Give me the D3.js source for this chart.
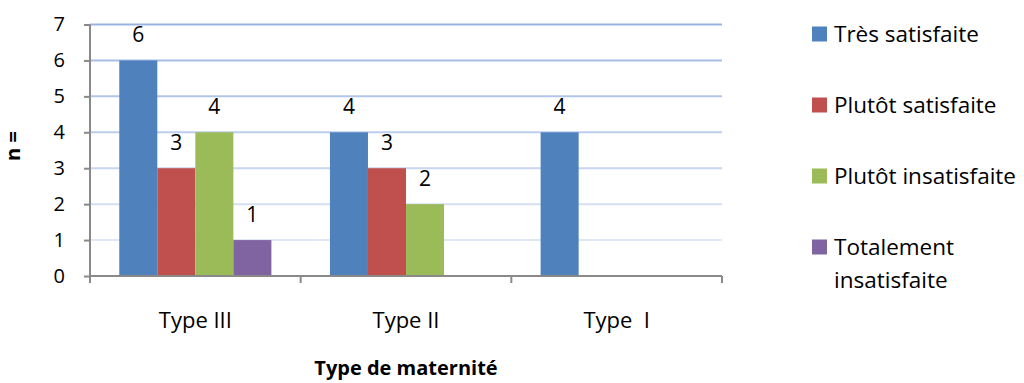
<!DOCTYPE html>
<html lang="fr">
<head>
<meta charset="utf-8">
<title>Satisfaction par type de maternité</title>
<script src="https://d3js.org/d3.v7.min.js"></script>
<style>
  body { margin: 0; background: #fff; }
  svg text { font-family: "Open Sans", "Noto Sans", sans-serif; fill: #000; }
</style>
</head>
<body>
<script>
// data
var categories = ["Type III", "Type II", "Type  I"];
var series = ["Très satisfaite", "Plutôt satisfaite", "Plutôt insatisfaite", "Totalement insatisfaite"];
var tresSatisfaite = [6, 4, 4];
var plutotSatisfaite = [3, 3, null];
var plutotInsatisfaite = [4, 2, null];
var totalementInsatisfaite = [1, null, null];
var yTicks = [0, 1, 2, 3, 4, 5, 6, 7];
var colors = ["#4f81bd", "#c0504d", "#9bbb59", "#8064a2"];

var values = [tresSatisfaite, plutotSatisfaite, plutotInsatisfaite, totalementInsatisfaite];

var width = 1024, height = 383;
var plot = {left: 90, right: 722, top: 24.5, bottom: 276};

var svg = d3.select("body").append("svg")
    .attr("width", width)
    .attr("height", height);

var x0 = d3.scaleBand()
    .domain(categories)
    .range([plot.left, plot.right]);

// excel style: 4 bars share ~72% of the band, centred
var x1 = d3.scaleBand()
    .domain(series)
    .range([0, x0.bandwidth()])
    .paddingOuter(0.77);

var y = d3.scaleLinear()
    .domain([0, 7])
    .range([plot.bottom, plot.top]);

var gridColor = d3.scaleLinear().domain([7, 1]).range(["#9ab4e2", "#dfe7f6"]);

// gridlines
svg.append("g")
  .selectAll("line")
  .data(yTicks.filter(function(d) { return d > 0; }))
  .enter().append("line")
    .attr("x1", plot.left)
    .attr("x2", plot.right)
    .attr("y1", function(d) { return y(d); })
    .attr("y2", function(d) { return y(d); })
    .attr("stroke", function(d) { return gridColor(d); })
    .attr("stroke-width", 2);

// bars
var rows = [];
categories.forEach(function(c, i) {
  series.forEach(function(s, j) {
    if (values[j][i] != null) rows.push({cat: c, key: s, value: values[j][i], color: colors[j]});
  });
});

svg.append("g")
  .selectAll("rect")
  .data(rows)
  .enter().append("rect")
    .attr("x", function(d) { return x0(d.cat) + x1(d.key); })
    .attr("y", function(d) { return y(d.value); })
    .attr("width", x1.bandwidth())
    .attr("height", function(d) { return y(0) - y(d.value); })
    .attr("fill", function(d) { return d.color; });

// value labels
svg.append("g")
  .selectAll("text")
  .data(rows)
  .enter().append("text")
    .attr("x", function(d) { return x0(d.cat) + x1(d.key) + x1.bandwidth() / 2; })
    .attr("y", function(d) { return y(d.value) - 18; })
    .attr("text-anchor", "middle")
    .attr("font-size", 21)
    .text(function(d) { return d.value; });

// y axis
var yAxis = svg.append("g")
    .attr("transform", "translate(" + plot.left + ",0)")
    .call(d3.axisLeft(y).tickValues(yTicks).tickFormat(d3.format("d")).tickSize(6).tickPadding(19));
yAxis.select(".domain").attr("stroke", "#898989").attr("stroke-width", 2).attr("d", "M0," + plot.top + "V" + plot.bottom);
yAxis.selectAll(".tick line").attr("stroke", "#898989").attr("stroke-width", 2);
yAxis.selectAll(".tick text").attr("font-size", 20).attr("font-family", "Open Sans").attr("fill", "#000");

// x axis
var xAxis = svg.append("g")
    .attr("transform", "translate(0," + plot.bottom + ")")
    .call(d3.axisBottom(x0).tickSize(0).tickPadding(36));
xAxis.select(".domain").attr("stroke", "#898989").attr("stroke-width", 2)
    .attr("d", "M" + plot.left + ",0H" + plot.right);
xAxis.selectAll(".tick text")
    .attr("font-size", 22)
    .attr("font-family", "Open Sans")
    .attr("fill", "#000")
    .style("white-space", "pre");

// category separators
svg.append("g")
  .selectAll("line")
  .data(categories.concat(["end"]))
  .enter().append("line")
    .attr("x1", function(d, i) { return plot.left + i * x0.bandwidth(); })
    .attr("x2", function(d, i) { return plot.left + i * x0.bandwidth(); })
    .attr("y1", plot.bottom)
    .attr("y2", plot.bottom + 7)
    .attr("stroke", "#898989")
    .attr("stroke-width", 2);

// axis titles
svg.append("text")
    .attr("x", (plot.left + plot.right) / 2)
    .attr("y", 375)
    .attr("text-anchor", "middle")
    .attr("font-size", 20)
    .attr("font-weight", "bold")
    .text("Type de maternité");

svg.append("text")
    .attr("transform", "translate(20,146) rotate(-90)")
    .attr("text-anchor", "middle")
    .attr("font-size", 20)
    .attr("font-weight", "bold")
    .text("n =");

// legend
var legendY = [34, 105, 176, 247];
var legend = svg.append("g")
  .selectAll("g")
  .data(series)
  .enter().append("g")
    .attr("transform", function(d, i) { return "translate(812," + legendY[i] + ")"; });

legend.append("rect")
    .attr("x", 0)
    .attr("y", -7.5)
    .attr("width", 15)
    .attr("height", 15)
    .attr("fill", function(d, i) { return colors[i]; });

legend.append("text")
    .attr("x", 22)
    .attr("y", 8)
    .attr("font-size", 22.5)
    .each(function(d) {
      var words = d === "Totalement insatisfaite" ? ["Totalement", "insatisfaite"] : [d];
      var t = d3.select(this);
      words.forEach(function(w, k) {
        t.append("tspan").attr("x", 22).attr("dy", k === 0 ? 0 : 33).text(w);
      });
    });
</script>
</body>
</html>
